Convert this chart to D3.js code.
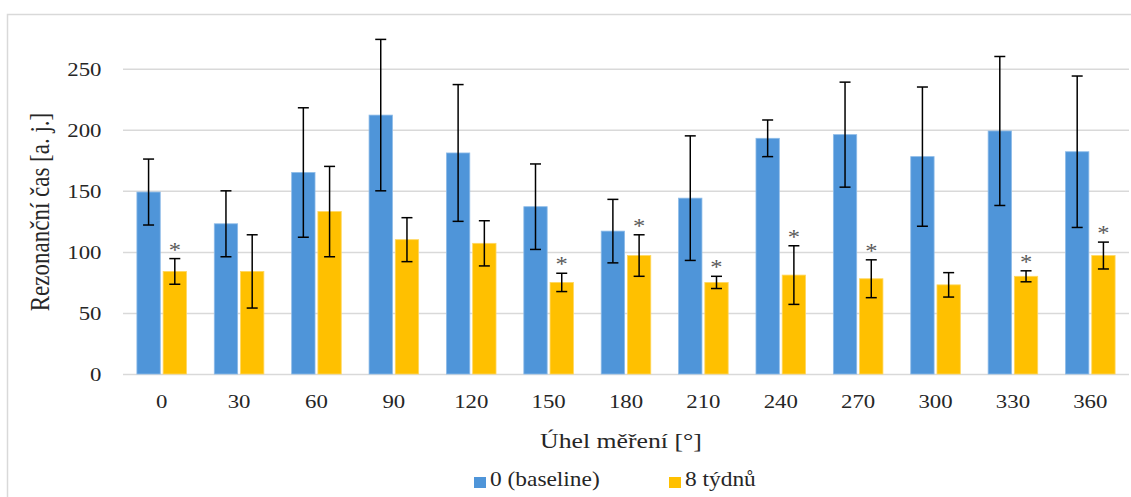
<!DOCTYPE html>
<html>
<head>
<meta charset="utf-8">
<script src="https://cdn.jsdelivr.net/npm/d3@7"></script>
<style>
  body { margin: 0; background: #fff; }
  svg { display: block; }
  text { font-family: "Liberation Serif", "Times New Roman", serif; fill: #262626; }
</style>
</head>
<body>
<div id="chart"></div>
<script>
// data
var categories = ["0", "30", "60", "90", "120", "150", "180", "210", "240", "270", "300", "330", "360"];
var seriesNames = ["0 (baseline)", "8 týdnů"];
var baseline = [149, 123, 165, 212, 181, 137, 117, 144, 193, 196, 178, 199, 182];
var baselineErr = [27, 27, 53, 62, 56, 35, 26, 51, 15, 43, 57, 61, 62];
var weeks8 = [84, 84, 133, 110, 107, 75, 97, 75, 81, 78, 73, 80, 97];
var weeks8Err = [10.5, 30, 37, 18, 18.5, 7.5, 17, 5, 24, 15.5, 10, 4.5, 11];
var significant = [true, false, false, false, false, true, true, true, true, true, false, true, true];
var yTicks = [0, 50, 100, 150, 200, 250];

var colors = ["#4f95d9", "#ffc000"];
var edges = ["#8dbbe8", "#ffd760"];

var width = 1131, height = 497;
// the picture is stretched sideways a bit, so the text is too
var sx = 1.17;

var svg = d3.select("#chart").append("svg")
  .attr("width", width)
  .attr("height", height);

// outer chart frame
svg.append("rect")
  .attr("x", 7.5).attr("y", 14.5)
  .attr("width", 1140).attr("height", 500)
  .attr("fill", "none")
  .attr("stroke", "#d9d9d9")
  .attr("stroke-width", 1.5);

var plotLeft = 123, plotRight = 1129;

var x0 = d3.scaleBand().domain(categories).range([plotLeft, plotRight]);
var x1 = d3.scaleBand().domain(seriesNames).range([0, x0.bandwidth()])
  .paddingInner(0.11).paddingOuter(0.53);
var y = d3.scaleLinear().domain([0, 250]).range([374, 68.7]);

// y axis + gridlines
var yAxis = svg.append("g")
  .attr("transform", "translate(" + plotLeft + ",0)")
  .call(d3.axisLeft(y).tickValues(yTicks).tickSize(-(plotRight - plotLeft)).tickPadding(0));
yAxis.select(".domain").remove();
yAxis.selectAll(".tick line").attr("stroke", "#d9d9d9").attr("stroke-width", 1.5);
yAxis.selectAll(".tick text")
  .attr("x", -21.5 / sx)
  .attr("dy", "0.33em")
  .attr("transform", "scale(" + sx + ",1)")
  .style("font-size", "19.5px")
  .style("font-family", "'Liberation Serif', serif")
  .attr("fill", "#262626");

// x axis labels
var xAxis = svg.append("g")
  .attr("transform", "translate(0,374)")
  .call(d3.axisBottom(x0).tickSize(0).tickPadding(0));
xAxis.select(".domain").remove();
xAxis.selectAll(".tick text")
  .attr("y", 34)
  .attr("dy", 0)
  .attr("transform", "scale(" + sx + ",1)")
  .style("font-size", "19.5px")
  .style("font-family", "'Liberation Serif', serif")
  .attr("fill", "#262626");

// rows for the bars
var rows = categories.map(function(c, i) {
  return {
    cat: c,
    vals: [
      { s: 0, name: seriesNames[0], v: baseline[i], e: baselineErr[i], star: false },
      { s: 1, name: seriesNames[1], v: weeks8[i], e: weeks8Err[i], star: significant[i] }
    ]
  };
});

var group = svg.selectAll(".grp")
  .data(rows)
  .enter().append("g")
    .attr("class", "grp")
    .attr("transform", function(d) { return "translate(" + x0(d.cat) + ",0)"; });

var bar = group.selectAll(".bar")
  .data(function(d) { return d.vals; })
  .enter().append("g")
    .attr("class", "bar");

bar.append("rect")
  .attr("x", function(d) { return x1(d.name); })
  .attr("y", function(d) { return y(d.v); })
  .attr("width", x1.bandwidth())
  .attr("height", function(d) { return y(0) - y(d.v); })
  .attr("fill", function(d) { return colors[d.s]; })
  .attr("stroke", function(d) { return edges[d.s]; })
  .attr("stroke-width", 0.8);

// error bars
var cap = 5.5;
bar.append("line")
  .attr("x1", function(d) { return x1(d.name) + x1.bandwidth() / 2; })
  .attr("x2", function(d) { return x1(d.name) + x1.bandwidth() / 2; })
  .attr("y1", function(d) { return y(d.v + d.e); })
  .attr("y2", function(d) { return y(d.v - d.e); });
bar.append("line")
  .attr("x1", function(d) { return x1(d.name) + x1.bandwidth() / 2 - cap; })
  .attr("x2", function(d) { return x1(d.name) + x1.bandwidth() / 2 + cap; })
  .attr("y1", function(d) { return y(d.v + d.e); })
  .attr("y2", function(d) { return y(d.v + d.e); });
bar.append("line")
  .attr("x1", function(d) { return x1(d.name) + x1.bandwidth() / 2 - cap; })
  .attr("x2", function(d) { return x1(d.name) + x1.bandwidth() / 2 + cap; })
  .attr("y1", function(d) { return y(d.v - d.e); })
  .attr("y2", function(d) { return y(d.v - d.e); });
bar.selectAll("line")
  .attr("stroke", "#000")
  .attr("stroke-width", 1.5);

// significance stars
bar.filter(function(d) { return d.star; })
  .append("text")
    .attr("transform", function(d) {
      return "translate(" + (x1(d.name) + x1.bandwidth() / 2) + "," + (y(d.v + d.e) - 2) + ") scale(" + sx + ",1)";
    })
    .attr("text-anchor", "middle")
    .style("font-size", "21px")
    .style("fill", "#595959")
    .text("*");

// axis titles
svg.append("text")
  .attr("transform", "translate(40.5,212) scale(" + sx + ",1) rotate(-90)")
  .attr("text-anchor", "middle")
  .attr("dy", "0.33em")
  .style("font-size", "23px")
  .text("Rezonanční čas [a. j.]");

svg.append("text")
  .attr("transform", "translate(621,447.5) scale(" + sx + ",1)")
  .attr("text-anchor", "middle")
  .style("font-size", "22px")
  .text("Úhel měření [°]");

// legend
var legendX = [474, 669];
var legend = svg.selectAll(".legend")
  .data(seriesNames)
  .enter().append("g")
    .attr("class", "legend")
    .attr("transform", function(d, i) { return "translate(" + legendX[i] + ",477)"; });
legend.append("rect")
  .attr("width", 12)
  .attr("height", 11)
  .attr("fill", function(d, i) { return colors[i]; });
legend.append("text")
  .attr("transform", "translate(16,8.5) scale(" + sx + ",1)")
  .style("font-size", "20px")
  .text(function(d) { return d; });
</script>
</body>
</html>
